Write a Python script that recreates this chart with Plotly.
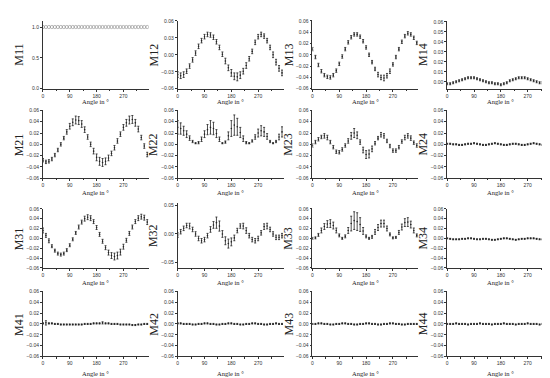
import plotly.graph_objects as go

angles = [0, 10, 20, 30, 40, 50, 60, 70, 80, 90, 100, 110, 120, 130, 140, 150, 160, 170,
          180, 190, 200, 210, 220, 230, 240, 250, 260, 270, 280, 290, 300, 310, 320, 330, 340, 350]

M11 = [1.0, 1.0, 1.0, 1.0, 1.0, 1.0, 1.0, 1.0, 1.0, 1.0, 1.0, 1.0, 1.0, 1.0, 1.0, 1.0, 1.0, 1.0,
       1.0, 1.0, 1.0, 1.0, 1.0, 1.0, 1.0, 1.0, 1.0, 1.0, 1.0, 1.0, 1.0, 1.0, 1.0, 1.0, 1.0, 1.0]
E11 = [0.003, 0.003, 0.003, 0.003, 0.003, 0.003, 0.003, 0.003, 0.003, 0.003, 0.003, 0.003,
       0.003, 0.003, 0.003, 0.003, 0.003, 0.003, 0.003, 0.003, 0.003, 0.003, 0.003, 0.003,
       0.003, 0.003, 0.003, 0.003, 0.003, 0.003, 0.003, 0.003, 0.003, 0.003, 0.003, 0.003]

M12 = [-0.035, -0.037, -0.035, -0.029, -0.020, -0.009, 0.003, 0.015, 0.025, 0.032, 0.036, 0.035,
       0.031, 0.023, 0.013, 0.001, -0.011, -0.023, -0.032, -0.038, -0.039, -0.036, -0.029, -0.019,
       -0.007, 0.006, 0.022, 0.032, 0.036, 0.033, 0.025, 0.013, 0.000, -0.013, -0.024, -0.032]
E12 = [0.005, 0.005, 0.005, 0.004, 0.004, 0.004, 0.004, 0.004, 0.004, 0.004, 0.004, 0.004,
       0.004, 0.004, 0.004, 0.004, 0.005, 0.005, 0.006, 0.006, 0.007, 0.006, 0.005, 0.005,
       0.004, 0.004, 0.004, 0.004, 0.004, 0.004, 0.004, 0.004, 0.005, 0.005, 0.005, 0.005]

M13 = [0.010, -0.004, -0.018, -0.029, -0.036, -0.039, -0.040, -0.036, -0.028, -0.016, -0.003, 0.010,
       0.022, 0.031, 0.036, 0.036, 0.032, 0.024, 0.013, 0.000, -0.013, -0.025, -0.035, -0.040,
       -0.041, -0.037, -0.029, -0.017, -0.004, 0.010, 0.023, 0.033, 0.038, 0.036, 0.030, 0.021]
E13 = [0.003, 0.003, 0.003, 0.003, 0.003, 0.003, 0.003, 0.003, 0.003, 0.003, 0.003, 0.003,
       0.003, 0.003, 0.003, 0.003, 0.003, 0.003, 0.003, 0.003, 0.003, 0.003, 0.004, 0.004,
       0.005, 0.004, 0.004, 0.003, 0.003, 0.003, 0.003, 0.003, 0.003, 0.003, 0.003, 0.003]

M14 = [-0.002, -0.002, -0.001, 0.000, 0.001, 0.002, 0.003, 0.004, 0.004, 0.004, 0.003, 0.002,
       0.001, 0.000, -0.001, -0.001, -0.002, -0.002, -0.003, -0.002, -0.001, 0.001, 0.002, 0.003,
       0.004, 0.004, 0.004, 0.003, 0.002, 0.001, 0.000, -0.001, -0.001, -0.002, -0.003, -0.003]
E14 = [0.001, 0.001, 0.001, 0.001, 0.001, 0.001, 0.001, 0.001, 0.001, 0.001, 0.001, 0.001,
       0.001, 0.001, 0.001, 0.001, 0.001, 0.001, 0.001, 0.001, 0.001, 0.001, 0.001, 0.001,
       0.001, 0.001, 0.001, 0.001, 0.001, 0.001, 0.001, 0.001, 0.001, 0.001, 0.001, 0.001]

M21 = [-0.028, -0.031, -0.030, -0.026, -0.019, -0.010, 0.000, 0.011, 0.022, 0.032, 0.039, 0.043,
       0.042, 0.036, 0.026, 0.013, 0.000, -0.012, -0.023, -0.030, -0.032, -0.030, -0.024, -0.016,
       -0.006, 0.006, 0.018, 0.030, 0.038, 0.043, 0.044, 0.038, 0.027, 0.012, -0.003, -0.018]
E21 = [0.003, 0.003, 0.003, 0.003, 0.003, 0.003, 0.003, 0.003, 0.004, 0.005, 0.006, 0.007,
       0.007, 0.006, 0.005, 0.004, 0.004, 0.005, 0.006, 0.007, 0.007, 0.006, 0.005, 0.004,
       0.004, 0.004, 0.004, 0.005, 0.006, 0.007, 0.007, 0.006, 0.005, 0.004, 0.004, 0.004]

M22 = [0.030, 0.028, 0.024, 0.018, 0.011, 0.005, 0.002, 0.003, 0.009, 0.018, 0.026, 0.030,
       0.028, 0.019, 0.009, 0.002, 0.004, 0.015, 0.028, 0.034, 0.031, 0.021, 0.010, 0.003,
       0.002, 0.006, 0.013, 0.020, 0.024, 0.022, 0.014, 0.005, 0.002, 0.005, 0.013, 0.022]
E22 = [0.012, 0.010, 0.008, 0.006, 0.004, 0.002, 0.001, 0.002, 0.004, 0.006, 0.009, 0.012,
       0.011, 0.007, 0.004, 0.001, 0.002, 0.007, 0.014, 0.018, 0.015, 0.009, 0.005, 0.002,
       0.001, 0.002, 0.004, 0.007, 0.009, 0.008, 0.005, 0.002, 0.001, 0.002, 0.005, 0.009]

M23 = [-0.002, 0.004, 0.009, 0.013, 0.015, 0.012, 0.004, -0.005, -0.013, -0.014, -0.009, -0.002,
       0.006, 0.015, 0.020, 0.016, 0.004, -0.010, -0.018, -0.017, -0.008, 0.002, 0.011, 0.017,
       0.015, 0.006, -0.003, -0.011, -0.011, -0.005, 0.005, 0.012, 0.015, 0.011, 0.003, -0.002]
E23 = [0.003, 0.003, 0.003, 0.003, 0.004, 0.004, 0.003, 0.003, 0.003, 0.003, 0.003, 0.003,
       0.004, 0.006, 0.008, 0.006, 0.004, 0.005, 0.007, 0.007, 0.005, 0.003, 0.003, 0.004,
       0.004, 0.003, 0.003, 0.003, 0.003, 0.003, 0.003, 0.004, 0.004, 0.004, 0.003, 0.003]

M24 = [0.001, 0.001, 0.000, 0.000, -0.001, -0.001, 0.000, 0.001, 0.001, 0.002, 0.001, 0.000,
       -0.001, -0.001, 0.000, 0.001, 0.002, 0.001, 0.000, -0.001, -0.001, 0.000, 0.001, 0.001,
       0.000, -0.001, -0.001, 0.000, 0.001, 0.002, 0.001, 0.000, -0.001, 0.000, 0.001, 0.001]
E24 = [0.001, 0.001, 0.001, 0.001, 0.001, 0.001, 0.001, 0.001, 0.001, 0.001, 0.001, 0.001,
       0.001, 0.001, 0.001, 0.001, 0.001, 0.001, 0.001, 0.001, 0.001, 0.001, 0.001, 0.001,
       0.001, 0.001, 0.001, 0.001, 0.001, 0.001, 0.001, 0.001, 0.001, 0.001, 0.001, 0.001]

M31 = [0.016, 0.006, -0.005, -0.016, -0.025, -0.031, -0.033, -0.031, -0.024, -0.014, -0.002, 0.011,
       0.023, 0.033, 0.040, 0.043, 0.041, 0.034, 0.022, 0.008, -0.006, -0.019, -0.029, -0.035,
       -0.037, -0.035, -0.028, -0.017, -0.004, 0.010, 0.023, 0.034, 0.041, 0.044, 0.042, 0.033]
E31 = [0.005, 0.004, 0.004, 0.003, 0.003, 0.003, 0.003, 0.003, 0.003, 0.003, 0.003, 0.003,
       0.004, 0.004, 0.005, 0.005, 0.005, 0.004, 0.004, 0.004, 0.004, 0.004, 0.005, 0.006,
       0.007, 0.007, 0.006, 0.005, 0.004, 0.004, 0.004, 0.004, 0.005, 0.005, 0.005, 0.005]

M32 = [-0.002, 0.004, 0.010, 0.015, 0.014, 0.008, 0.000, -0.008, -0.012, -0.010, -0.003, 0.008,
       0.016, 0.020, 0.014, 0.000, -0.012, -0.017, -0.014, -0.007, 0.006, 0.014, 0.014, 0.006,
       -0.003, -0.010, -0.012, -0.008, 0.002, 0.013, 0.014, 0.008, 0.000, -0.006, -0.006, -0.003]
E32 = [0.004, 0.004, 0.004, 0.004, 0.005, 0.004, 0.004, 0.004, 0.004, 0.004, 0.004, 0.005,
       0.006, 0.010, 0.009, 0.006, 0.007, 0.008, 0.007, 0.005, 0.004, 0.004, 0.005, 0.005,
       0.004, 0.004, 0.004, 0.004, 0.004, 0.005, 0.005, 0.004, 0.004, 0.004, 0.004, 0.004]

M33 = [0.000, 0.001, 0.007, 0.016, 0.024, 0.029, 0.030, 0.026, 0.016, 0.006, 0.000, 0.004,
       0.016, 0.030, 0.036, 0.034, 0.028, 0.015, 0.004, 0.000, 0.003, 0.013, 0.022, 0.030,
       0.030, 0.020, 0.008, 0.001, 0.002, 0.012, 0.023, 0.032, 0.033, 0.028, 0.016, 0.006]
E33 = [0.002, 0.002, 0.003, 0.005, 0.006, 0.007, 0.008, 0.007, 0.005, 0.003, 0.002, 0.003,
       0.006, 0.015, 0.018, 0.018, 0.014, 0.007, 0.003, 0.002, 0.003, 0.005, 0.006, 0.007,
       0.007, 0.005, 0.003, 0.002, 0.002, 0.004, 0.006, 0.008, 0.009, 0.007, 0.005, 0.003]

M34 = [0.000, -0.001, -0.002, -0.002, -0.002, -0.001, -0.001, 0.000, 0.000, -0.001, -0.002, -0.002,
       -0.001, -0.001, -0.002, -0.003, -0.003, -0.002, -0.001, 0.000, 0.000, -0.001, -0.002, -0.003,
       -0.002, -0.001, -0.001, 0.000, 0.000, 0.000, -0.001, -0.002, -0.002, -0.001, -0.001, -0.002]
E34 = E24

M41 = [0.001, 0.002, 0.001, 0.001, 0.000, 0.000, -0.001, -0.001, -0.001, -0.001, -0.001, -0.001,
       -0.001, -0.001, 0.000, 0.000, 0.000, 0.001, 0.001, 0.001, 0.002, 0.001, 0.001, 0.000,
       0.000, 0.000, -0.001, -0.001, -0.001, -0.001, -0.002, -0.002, -0.001, -0.001, 0.000, 0.000]
E41 = [0.001, 0.004, 0.001, 0.001, 0.001, 0.001, 0.001, 0.001, 0.001, 0.001, 0.001, 0.001,
       0.001, 0.001, 0.001, 0.001, 0.001, 0.001, 0.001, 0.001, 0.002, 0.001, 0.001, 0.001,
       0.001, 0.001, 0.001, 0.001, 0.001, 0.001, 0.001, 0.001, 0.001, 0.001, 0.001, 0.001]

M42 = [0.001, 0.001, 0.000, 0.000, 0.000, -0.001, -0.001, 0.000, 0.000, 0.001, 0.001, 0.000,
       0.000, -0.001, -0.001, 0.000, 0.000, 0.001, 0.001, 0.000, 0.000, -0.001, -0.001, 0.000,
       0.000, 0.001, 0.001, 0.000, 0.000, -0.001, -0.001, 0.000, 0.000, 0.001, 0.000, 0.000]
M43 = [0.000, 0.000, 0.001, 0.001, 0.000, 0.000, -0.001, -0.001, 0.000, 0.000, 0.001, 0.001,
       0.000, 0.000, -0.001, -0.001, 0.000, 0.000, 0.001, 0.001, 0.000, 0.000, -0.001, -0.001,
       0.000, 0.000, 0.001, 0.001, 0.000, 0.000, -0.001, -0.001, 0.000, 0.000, 0.000, 0.000]
M44 = [0.000, 0.000, 0.000, 0.001, 0.000, 0.000, 0.000, -0.001, 0.000, 0.000, 0.000, 0.001,
       0.000, 0.000, 0.000, -0.001, 0.000, 0.000, 0.000, 0.001, 0.000, 0.000, 0.000, -0.001,
       0.000, 0.000, 0.000, 0.001, 0.000, 0.000, 0.000, -0.001, 0.000, 0.000, 0.000, 0.000]
E4x = E24

names = ["M11", "M12", "M13", "M14", "M21", "M22", "M23", "M24",
         "M31", "M32", "M33", "M34", "M41", "M42", "M43", "M44"]
series = [M11, M12, M13, M14, M21, M22, M23, M24, M31, M32, M33, M34, M41, M42, M43, M44]
errors = [E11, E12, E13, E14, E21, E22, E23, E24, E31, E32, E33, E34, E41, E4x, E4x, E4x]

x_ticks = [0, 90, 180, 270]
x_tick_text = ["0", "90", "180", "270"]
x_title = "Angle in °"

W, H = 550, 378
col_left = [34, 169, 304, 439]
plot_w = 106
row_tb = [(10, 79), (101, 170), (201, 261), (285, 351)]
title_gap = [12.5, 14, 15, 17]

fig = go.Figure()
ann = []
for i, (name, ys, es) in enumerate(zip(names, series, errors)):
    r, c = divmod(i, 4)
    k = i + 1
    xa = "x" if k == 1 else f"x{k}"
    ya = "y" if k == 1 else f"y{k}"
    if name == "M11":
        fig.add_trace(go.Scatter(
            x=angles, y=ys, mode="markers", xaxis=xa, yaxis=ya, showlegend=False,
            marker=dict(symbol="circle-open", size=3.2, color="#8a8a8a", line=dict(width=0.6))))
    else:
        fig.add_trace(go.Scatter(
            x=angles, y=ys, mode="markers", xaxis=xa, yaxis=ya, showlegend=False,
            marker=dict(symbol="circle", size=1.6, color="#222"),
            error_y=dict(type="data", array=es, visible=True, color="#222",
                         thickness=0.8, width=1)))

    left = col_left[c]
    top, bot = row_tb[r]
    if name == "M32":
        top = 195
    yr = [-0.06, 0.06]
    dt = 0.02
    fmt = ".2f"
    tv = None
    if name == "M11":
        yr, dt, fmt = [0, 1.1], 0.5, ".1f"
    elif name == "M12":
        dt = 0.03
    elif name == "M14":
        yr, dt = [-0.007, 0.061], 0.01
    elif name == "M32":
        yr = [-0.06, 0.055]
        tv = [-0.05, 0.0, 0.05]

    axcommon = dict(showline=True, linecolor="#333", linewidth=0.8, ticks="outside",
                    ticklen=2, tickwidth=0.6, tickcolor="#333", showgrid=False,
                    zeroline=False, tickfont=dict(size=5, family="Liberation Sans", color="#333"))
    xd = dict(domain=[left / W, (left + plot_w) / W], anchor=ya, range=[0, 355],
              tickmode="array", tickvals=x_ticks, ticktext=x_tick_text,
              minor=dict(ticks="outside", dtick=45, ticklen=1.2, tickwidth=0.5, tickcolor="#333"),
              **axcommon)
    yd = dict(domain=[1 - bot / H, 1 - top / H], anchor=xa, range=yr, tickformat=fmt, **axcommon)
    if tv is not None:
        yd.update(tickmode="array", tickvals=tv)
    else:
        yd.update(dtick=dt, tick0=0)
    fig.update_layout(**{("xaxis" if k == 1 else f"xaxis{k}"): xd,
                         ("yaxis" if k == 1 else f"yaxis{k}"): yd})

    ann.append(dict(text=x_title, xref="paper", yref="paper", showarrow=False,
                    x=(left + plot_w / 2) / W, y=1 - (bot + title_gap[r]) / H,
                    xanchor="center", yanchor="middle", borderpad=0,
                    font=dict(size=6.5, family="Liberation Serif", color="#222")))
    ann.append(dict(text=name, xref="paper", yref="paper", showarrow=False, textangle=-90,
                    x=(left - 24) / W, y=1 - ((top + bot) / 2) / H, borderpad=0,
                    xanchor="center", yanchor="middle",
                    font=dict(size=12, family="Liberation Serif", color="#222")))

fig.update_layout(width=W, height=H, margin=dict(l=0, r=0, t=0, b=0),
                  paper_bgcolor="white", plot_bgcolor="white", annotations=ann)
fig.write_html("out.html")
